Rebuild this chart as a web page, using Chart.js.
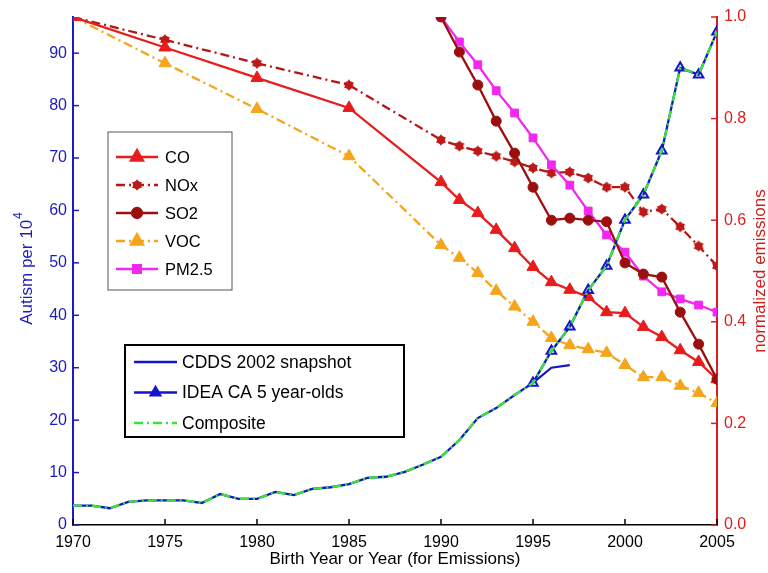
<!DOCTYPE html>
<html>
<head>
<meta charset="utf-8">
<script src="https://cdn.jsdelivr.net/npm/chart.js@4.4.0/dist/chart.umd.min.js"></script>
<style>
  html, body { margin: 0; padding: 0; background: #fff; }
  #wrap { width: 768px; height: 573px; }
</style>
</head>
<body>
<div id="wrap"><canvas id="chart"></canvas></div>
<script>
// autism counts (left axis) and normalized emissions (right axis)
const autismYears = [1970, 1971, 1972, 1973, 1974, 1975, 1976, 1977, 1978, 1979, 1980, 1981, 1982, 1983, 1984, 1985, 1986, 1987, 1988, 1989, 1990, 1991, 1992, 1993, 1994, 1995, 1996, 1997, 1998, 1999, 2000, 2001, 2002, 2003, 2004, 2005];
const cdds = [3.7, 3.7, 3.2, 4.4, 4.7, 4.7, 4.7, 4.2, 5.9, 5.0, 5.0, 6.3, 5.7, 6.9, 7.2, 7.8, 9.0, 9.2, 10.1, 11.5, 13.0, 16.2, 20.4, 22.3, 24.8, 27.1, 30.0, 30.5];
const ideaYears = [1995, 1996, 1997, 1998, 1999, 2000, 2001, 2002, 2003, 2004, 2005];
const idea = [27.1, 33.2, 37.8, 44.8, 49.4, 58.2, 63.0, 71.4, 87.2, 85.9, 94.1];
const composite = [3.7, 3.7, 3.2, 4.4, 4.7, 4.7, 4.7, 4.2, 5.9, 5.0, 5.0, 6.3, 5.7, 6.9, 7.2, 7.8, 9.0, 9.2, 10.1, 11.5, 13.0, 16.2, 20.4, 22.3, 24.8, 27.1, 33.2, 37.8, 44.8, 49.4, 58.2, 63.0, 71.4, 87.2, 85.9, 94.1];

const emisYears = [1970, 1975, 1980, 1985, 1990, 1991, 1992, 1993, 1994, 1995, 1996, 1997, 1998, 1999, 2000, 2001, 2002, 2003, 2004, 2005];
const co = [1.0, 0.94, 0.88, 0.821, 0.675, 0.64, 0.614, 0.581, 0.545, 0.508, 0.478, 0.463, 0.449, 0.419, 0.417, 0.39, 0.37, 0.344, 0.321, 0.287];
const nox = [1.0, 0.955, 0.909, 0.866, 0.758, 0.746, 0.736, 0.726, 0.715, 0.703, 0.693, 0.695, 0.683, 0.665, 0.665, 0.616, 0.622, 0.587, 0.549, 0.51];
const voc = [1.0, 0.909, 0.819, 0.726, 0.551, 0.526, 0.496, 0.461, 0.43, 0.4, 0.368, 0.354, 0.346, 0.339, 0.315, 0.291, 0.291, 0.274, 0.26, 0.24];
const lateYears = [1990, 1991, 1992, 1993, 1994, 1995, 1996, 1997, 1998, 1999, 2000, 2001, 2002, 2003, 2004, 2005];
const so2 = [1.0, 0.931, 0.866, 0.795, 0.732, 0.665, 0.6, 0.604, 0.6, 0.597, 0.516, 0.494, 0.488, 0.419, 0.356, 0.287];
const pm25 = [1.0, 0.951, 0.906, 0.855, 0.811, 0.762, 0.709, 0.669, 0.618, 0.571, 0.537, 0.49, 0.459, 0.445, 0.433, 0.419];

const leftTicks = [0, 10, 20, 30, 40, 50, 60, 70, 80, 90];
const rightTicks = [0, 0.2, 0.4, 0.6, 0.8, 1.0];
const xTicks = [1970, 1975, 1980, 1985, 1990, 1995, 2000, 2005];

const BLUE = 'rgb(28,28,190)';
const AXRED = 'rgb(222,30,30)';
const FONT = '"Liberation Sans", Arial, sans-serif';

function pts(xs, ys) { return ys.map((v, i) => ({ x: xs[i], y: v })); }

// six-pointed star marker for NOx
function starMarker(color) {
  const c = document.createElement('canvas');
  c.width = 12; c.height = 12;
  const g = c.getContext('2d');
  g.fillStyle = color;
  g.beginPath();
  for (let i = 0; i < 12; i++) {
    const r = i % 2 ? 3.7 : 5.7;
    const a = Math.PI / 6 * i - Math.PI / 2;
    g.lineTo(6 + r * Math.cos(a), 6 + r * Math.sin(a));
  }
  g.closePath();
  g.fill();
  g.beginPath(); g.arc(6, 6, 4, 0, Math.PI * 2); g.fill();
  return c;
}
const noxStar = starMarker('rgb(190,25,25)');

const datasets = [
  { label: 'CO', data: pts(emisYears, co), yAxisID: 'y2', borderColor: 'rgb(232,28,28)', backgroundColor: 'rgb(232,28,28)',
    borderWidth: 2.3, pointStyle: 'triangle', pointRadius: 7, pointBorderWidth: 1, order: 6 },
  { label: 'NOx', data: pts(emisYears, nox), yAxisID: 'y2', borderColor: 'rgb(180,22,22)', backgroundColor: 'rgb(190,25,25)',
    borderWidth: 2.3, borderDash: [9, 4, 2, 4], pointStyle: noxStar, pointRadius: 6, order: 7 },
  { label: 'SO2', data: pts(lateYears, so2), yAxisID: 'y2', borderColor: 'rgb(155,15,15)', backgroundColor: 'rgb(155,15,15)',
    borderWidth: 2.3, pointStyle: 'circle', pointRadius: 5, pointBorderWidth: 1, order: 3 },
  { label: 'VOC', data: pts(emisYears, voc), yAxisID: 'y2', borderColor: 'rgb(245,165,28)', backgroundColor: 'rgb(245,165,28)',
    borderWidth: 2.3, borderDash: [9, 4, 2, 4], pointStyle: 'triangle', pointRadius: 7, pointBorderWidth: 1, order: 8 },
  { label: 'PM2.5', data: pts(lateYears, pm25), yAxisID: 'y2', borderColor: 'rgb(240,40,240)', backgroundColor: 'rgb(240,40,240)',
    borderWidth: 2.3, pointStyle: 'rect', pointRadius: 5.5, pointBorderWidth: 1, order: 5 },
  { label: 'CDDS 2002 snapshot', data: pts(autismYears, cdds), yAxisID: 'y', borderColor: 'rgb(20,20,200)',
    borderWidth: 2.3, pointRadius: 0, order: 4 },
  { label: 'IDEA CA 5 year-olds', data: pts(ideaYears, idea), yAxisID: 'y', borderColor: 'rgb(20,20,200)', backgroundColor: 'rgba(255,255,255,0)',
    borderWidth: 2.3, pointStyle: 'triangle', pointRadius: 5.5, pointBorderWidth: 2, order: 2 },
  { label: 'Composite', data: pts(autismYears, composite), yAxisID: 'y', borderColor: 'rgb(60,225,60)',
    borderWidth: 2.4, borderDash: [9, 4, 2, 4], pointRadius: 0, order: 1 }
];
datasets.forEach(d => { d.tension = 0; d.fill = false; d.pointBackgroundColor = d.backgroundColor; d.pointBorderColor = d.borderColor; });

function drawLegendBox(ctx, chart, box, idxs, lw, stroke) {
  ctx.save();
  ctx.fillStyle = '#fff';
  ctx.fillRect(box.x, box.y, box.w, box.h);
  ctx.lineWidth = lw; ctx.strokeStyle = stroke;
  ctx.strokeRect(box.x, box.y, box.w, box.h);
  ctx.font = box.font + 'px ' + FONT;
  ctx.textBaseline = 'middle';
  idxs.forEach((di, i) => {
    const ds = chart.data.datasets[di];
    const y = box.y + box.first + i * box.step;
    ctx.strokeStyle = ds.borderColor; ctx.lineWidth = ds.borderWidth;
    ctx.setLineDash(ds.borderDash || []);
    ctx.beginPath(); ctx.moveTo(box.x + box.lx0, y); ctx.lineTo(box.x + box.lx1, y); ctx.stroke();
    ctx.setLineDash([]);
    if (ds.pointRadius > 0) {
      // legend marker of IDEA is filled
      ctx.fillStyle = di === 6 ? ds.borderColor : ds.backgroundColor;
      ctx.strokeStyle = ds.borderColor;
      Chart.helpers.drawPoint(ctx, { pointStyle: ds.pointStyle, radius: ds.pointRadius, rotation: 0, borderWidth: 1 },
        box.x + (box.lx0 + box.lx1) / 2, y);
    }
    ctx.fillStyle = '#000';
    ctx.fillText(ds.label, box.x + box.tx, y + 1);
  });
  ctx.restore();
}

const decor = {
  id: 'decor',
  afterDraw(chart) {
    const ctx = chart.ctx, a = chart.chartArea;
    const sx = chart.scales.x, sy = chart.scales.y, sr = chart.scales.y2;
    ctx.save();
    // ticks point into the plot
    ctx.lineWidth = 1.5;
    ctx.strokeStyle = BLUE;
    leftTicks.forEach(v => { const p = sy.getPixelForValue(v); ctx.beginPath(); ctx.moveTo(a.left, p); ctx.lineTo(a.left + 6, p); ctx.stroke(); });
    ctx.strokeStyle = AXRED;
    rightTicks.forEach(v => { const p = sr.getPixelForValue(v); ctx.beginPath(); ctx.moveTo(a.right, p); ctx.lineTo(a.right - 6, p); ctx.stroke(); });
    ctx.strokeStyle = '#000';
    xTicks.forEach(v => { const p = sx.getPixelForValue(v); ctx.beginPath(); ctx.moveTo(p, a.bottom); ctx.lineTo(p, a.bottom - 6); ctx.stroke(); });
    // axis titles
    ctx.font = '17px ' + FONT;
    ctx.textBaseline = 'middle';
    ctx.textAlign = 'center';
    ctx.fillStyle = '#000';
    ctx.fillText('Birth Year or Year (for Emissions)', (a.left + a.right) / 2, 559);

    ctx.save();
    ctx.translate(27, 269); ctx.rotate(-Math.PI / 2);
    ctx.fillStyle = BLUE;
    ctx.textAlign = 'left';
    const main = 'Autism per 10';
    ctx.font = '17px ' + FONT;
    const w1 = ctx.measureText(main).width;
    ctx.font = '12px ' + FONT;
    const w2 = ctx.measureText('4').width;
    const x0 = -(w1 + w2) / 2;
    ctx.font = '17px ' + FONT;
    ctx.fillText(main, x0, 0);
    ctx.font = '12px ' + FONT;
    ctx.fillText('4', x0 + w1 + 1, -8);
    ctx.restore();

    ctx.save();
    ctx.translate(760, 271); ctx.rotate(-Math.PI / 2);
    ctx.font = '17px ' + FONT;
    ctx.fillStyle = 'rgb(205,30,30)';
    ctx.fillText('normalized emissions', 0, 0);
    ctx.restore();
    ctx.restore();

    drawLegendBox(ctx, chart, { x: 108, y: 132, w: 124, h: 158, first: 25, step: 28, lx0: 8, lx1: 50, tx: 57, font: 16.5 }, [0, 1, 2, 3, 4], 1, '#555');
    drawLegendBox(ctx, chart, { x: 125, y: 345, w: 279, h: 92, first: 17, step: 30.5, lx0: 9, lx1: 52, tx: 57, font: 17.5 }, [5, 6, 7], 2, '#000');
  }
};

new Chart(document.getElementById('chart'), {
  type: 'line',
  data: { datasets },
  options: {
    responsive: true,
    maintainAspectRatio: false,
    animation: false,
    layout: { padding: { top: 17, left: 0, right: 0, bottom: 0 } },
    plugins: { legend: { display: false }, tooltip: { enabled: false } },
    scales: {
      x: {
        type: 'linear', min: 1970, max: 2005,
        afterBuildTicks: s => { s.ticks = xTicks.map(v => ({ value: v })); },
        afterFit: s => { s.height = 48; },
        grid: { display: false, drawTicks: false },
        border: { display: true, color: '#000', width: 1.5 },
        ticks: { color: '#000', padding: 8, font: { family: FONT, size: 16 }, maxRotation: 0, callback: v => String(v) }
      },
      y: {
        position: 'left', min: 0, max: 96.9,
        afterBuildTicks: s => { s.ticks = leftTicks.map(v => ({ value: v })); },
        afterFit: s => { s.width = 73; },
        grid: { display: false, drawTicks: false },
        border: { display: true, color: BLUE, width: 2 },
        ticks: { color: BLUE, padding: 6, font: { family: FONT, size: 16 } }
      },
      y2: {
        position: 'right', min: 0, max: 1,
        afterBuildTicks: s => { s.ticks = rightTicks.map(v => ({ value: v })); },
        afterFit: s => { s.width = 51; },
        grid: { display: false, drawTicks: false },
        border: { display: true, color: AXRED, width: 2 },
        ticks: { color: AXRED, padding: 7, font: { family: FONT, size: 16 }, callback: v => v.toFixed(1) }
      }
    }
  },
  plugins: [decor]
});
</script>
</body>
</html>
